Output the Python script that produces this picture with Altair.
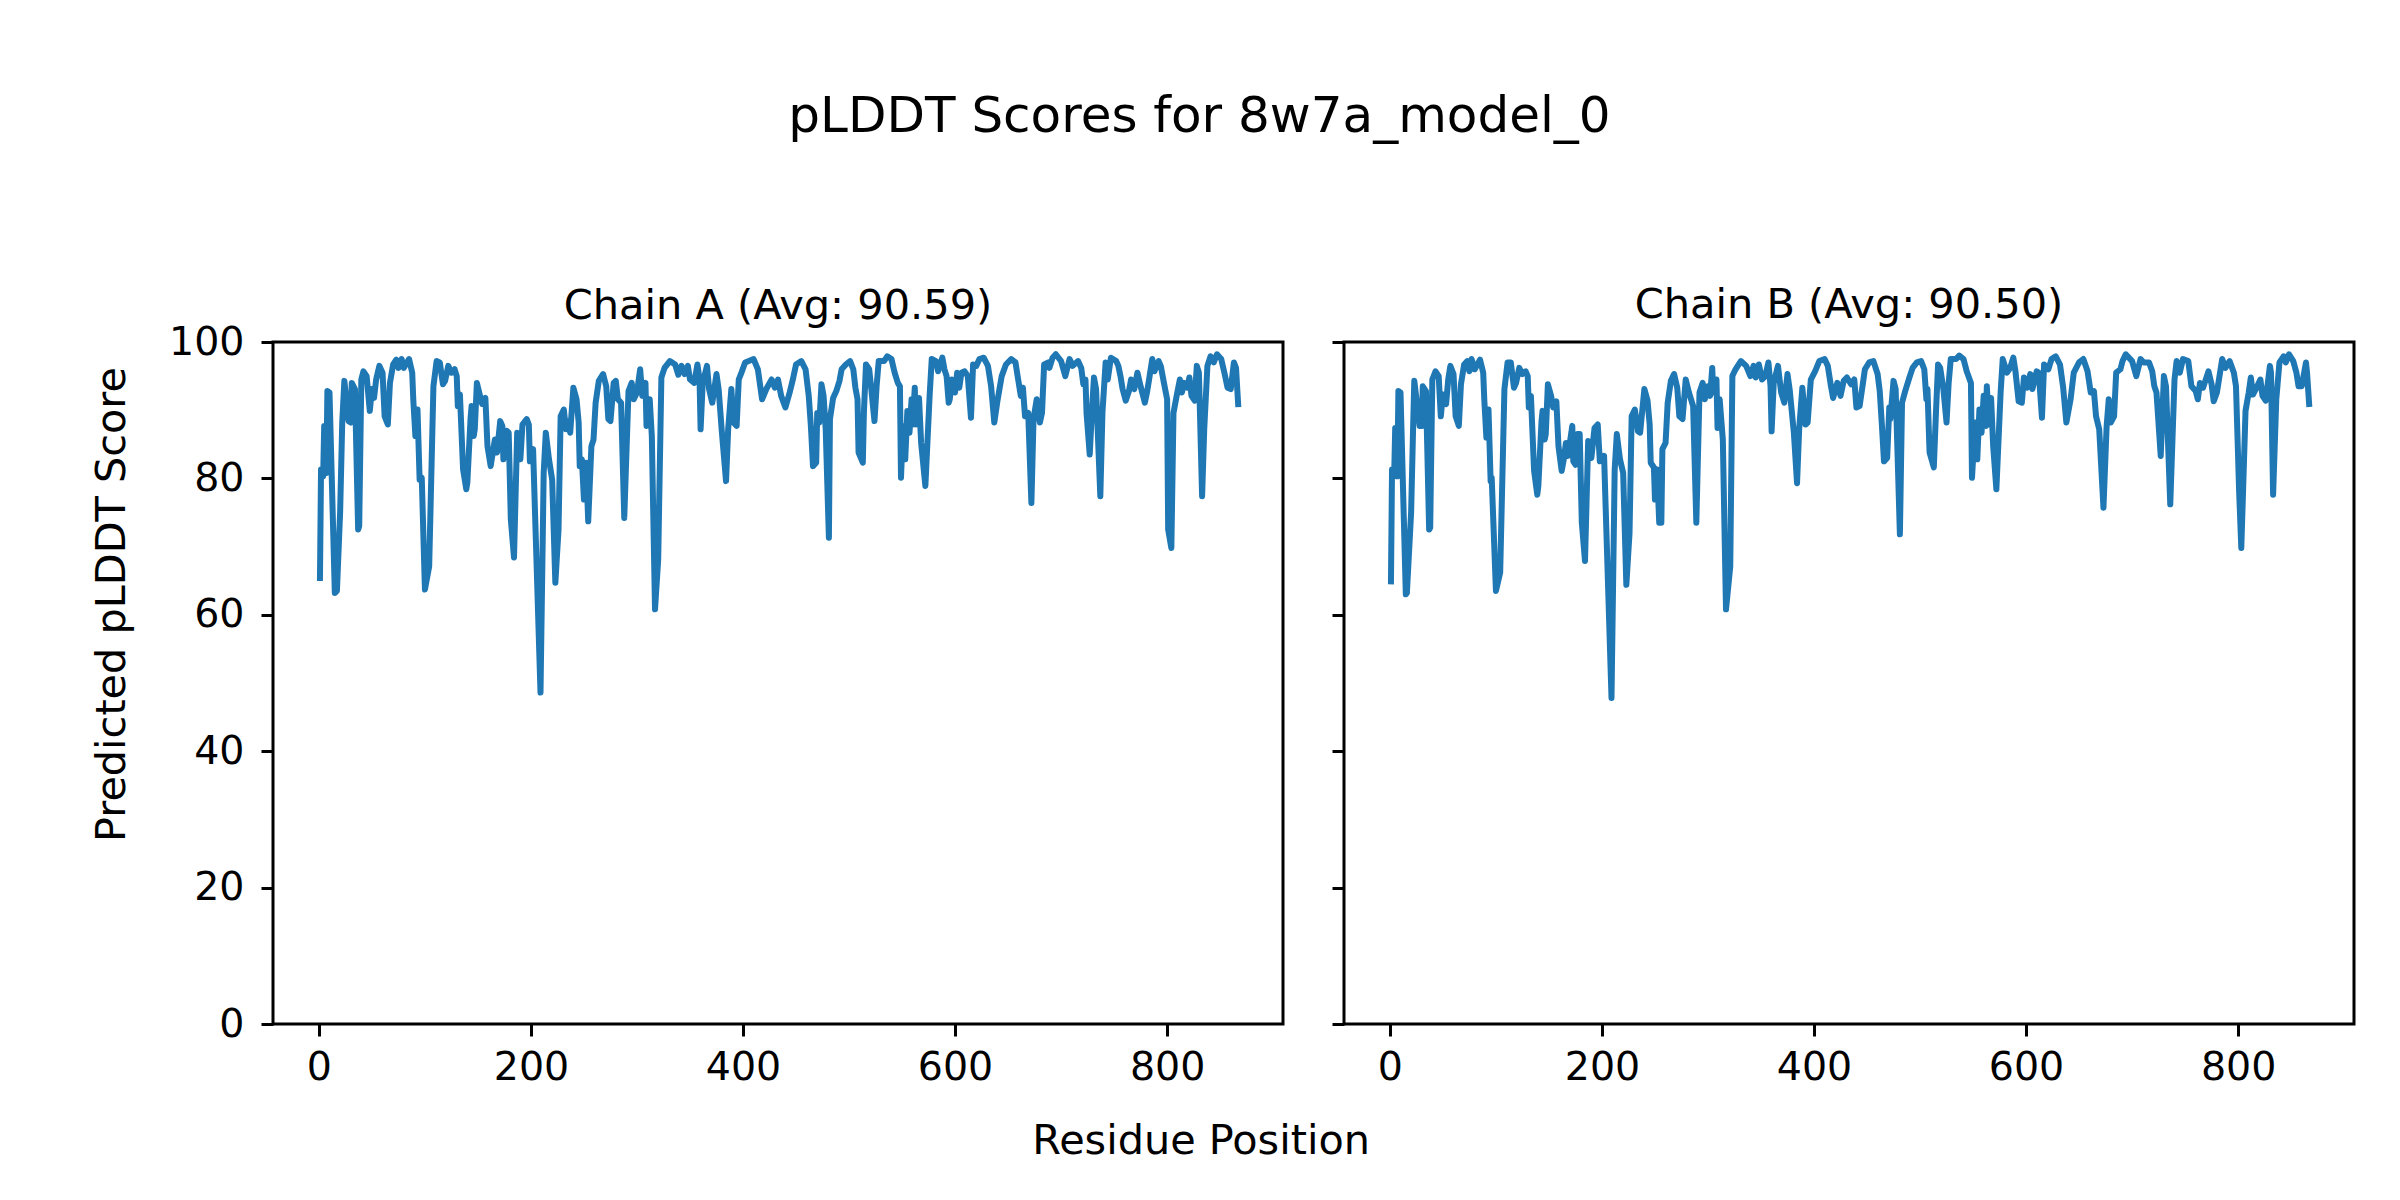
import altair as alt
import pandas as pd

# ---------------- data ----------------
A_POS = [1, 2, 4, 5, 7, 8, 10, 15, 17, 20, 22, 24, 28, 30, 31, 34, 37, 38, 40, 42,
         45, 48, 50, 52, 54, 57, 60, 62, 65, 67, 70, 73, 75, 78, 80, 85, 88, 89, 91, 93,
         95, 97, 100, 104, 108, 111, 114, 117, 119, 122, 125, 128, 130, 131, 133, 136, 139, 140, 143, 144,
         146, 147, 149, 152, 154, 157, 159, 162, 164, 166, 168, 171, 173, 174, 177, 179, 181, 184, 187, 190,
         192, 196, 198, 199, 202, 209, 212, 214, 217, 220, 223, 226, 228, 231, 233, 235, 237, 240, 243, 245,
         246, 248, 250, 252, 254, 257, 259, 261, 264, 268, 271, 273, 275, 278, 280, 282, 285, 288, 292, 295,
         297, 300, 303, 305, 308, 309, 312, 314, 317, 320, 323, 326, 331, 336, 339, 342, 345, 348, 350, 354,
         357, 359, 360, 362, 366, 368, 371, 375, 377, 380, 384, 386, 389, 391, 394, 396, 399, 402, 410, 414,
         418, 422, 427, 430, 433, 436, 440, 444, 447, 450, 455, 459, 462, 464, 466, 469, 470, 472, 474, 476,
         478, 481, 482, 485, 488, 491, 493, 497, 501, 504, 506, 508, 509, 513, 514, 516, 519, 521, 524, 526,
         528, 533, 536, 540, 543, 546, 548, 549, 551, 553, 555, 557, 559, 560, 562, 563, 566, 568, 572, 576,
         578, 582, 584, 588, 590, 592, 594, 595, 597, 600, 602, 604, 606, 609, 612, 615, 617, 620, 623, 627,
         631, 634, 637, 640, 644, 648, 653, 657, 659, 662, 664, 666, 669, 672, 674, 677, 680, 682, 684, 688,
         689, 692, 695, 700, 704, 708, 711, 716, 719, 721, 723, 724, 727, 729, 731, 733, 737, 739, 742, 744,
         747, 752, 754, 756, 758, 761, 764, 766, 769, 772, 775, 777, 779, 781, 783, 786, 788, 792, 794, 797,
         800, 801, 804, 806, 809, 812, 814, 816, 819, 821, 823, 826, 828, 830, 833, 835, 838, 841, 844, 847,
         851, 854, 857, 860, 863, 865, 867]
A_SCORE = [65.4, 81.3, 80.3, 87.7, 80.8, 92.8, 92.6, 63.2, 63.5, 75.0, 88.2, 94.3, 88.4, 88.2, 94.0, 93.1, 72.5, 73.0, 94.5, 95.7,
           95.0, 89.9, 93.1, 91.8, 94.5, 96.5, 95.5, 89.1, 87.9, 94.0, 96.7, 97.4, 96.2, 97.5, 96.2, 97.5, 95.5, 91.6, 86.2, 90.1,
           79.8, 80.1, 63.7, 67.1, 93.5, 97.2, 97.0, 93.8, 94.3, 96.5, 95.5, 96.0, 95.0, 90.6, 92.3, 81.3, 78.4, 79.4, 88.7, 90.6,
           86.2, 87.2, 94.0, 92.1, 90.9, 91.8, 84.7, 81.8, 83.8, 85.7, 83.8, 88.4, 87.7, 82.8, 87.0, 86.7, 74.0, 68.4, 86.7, 82.8,
           87.9, 88.7, 87.9, 82.5, 84.3, 48.6, 80.8, 86.7, 82.8, 79.8, 64.7, 72.5, 89.1, 90.1, 87.2, 88.4, 86.7, 93.3, 91.6, 88.2,
           81.8, 82.8, 76.9, 82.3, 73.7, 84.7, 85.7, 91.1, 94.3, 95.3, 93.5, 88.7, 88.4, 94.0, 94.3, 91.6, 91.1, 74.2, 92.8, 94.0,
           91.6, 92.6, 96.0, 92.1, 94.0, 87.7, 91.6, 86.2, 60.8, 68.1, 94.8, 96.2, 97.2, 96.7, 95.2, 96.5, 95.3, 96.5, 94.5, 94.0,
           96.7, 94.5, 87.2, 94.0, 96.5, 93.1, 91.1, 95.3, 93.1, 86.9, 79.6, 87.2, 93.1, 88.2, 87.7, 94.5, 95.7, 97.0, 97.5, 96.0,
           91.6, 93.1, 94.5, 93.3, 94.5, 92.1, 90.4, 92.6, 94.5, 96.7, 97.2, 96.0, 92.1, 87.7, 81.8, 82.3, 89.6, 88.2, 93.8, 92.1,
           87.2, 71.3, 88.7, 91.8, 92.8, 94.3, 96.0, 96.7, 97.2, 96.0, 93.3, 91.6, 83.8, 82.3, 89.6, 96.7, 96.0, 93.1, 88.4, 93.5,
           97.2, 97.2, 97.9, 97.5, 95.5, 94.0, 93.5, 80.1, 87.7, 82.8, 89.9, 86.7, 91.6, 87.9, 93.3, 87.9, 91.8, 85.2, 78.9, 92.1,
           97.5, 97.2, 95.7, 97.7, 96.0, 95.0, 91.1, 91.6, 94.5, 92.6, 95.5, 93.3, 95.5, 95.7, 95.0, 88.9, 96.7, 96.5, 97.5, 97.7,
           96.5, 93.5, 88.2, 91.4, 95.0, 96.7, 97.5, 97.0, 95.0, 92.1, 93.3, 89.1, 89.6, 76.4, 88.7, 91.6, 88.2, 89.6, 96.7, 97.0,
           96.2, 97.7, 98.2, 97.2, 95.0, 97.5, 96.5, 97.2, 96.2, 93.8, 94.5, 89.6, 83.5, 89.6, 94.8, 93.1, 77.4, 89.6, 97.0, 94.5,
           97.7, 97.2, 96.5, 95.0, 93.1, 91.4, 92.8, 94.5, 93.1, 95.5, 93.5, 92.3, 91.1, 92.6, 94.5, 97.5, 95.7, 97.2, 96.5, 94.0,
           91.6, 72.5, 69.8, 89.6, 92.1, 94.5, 92.6, 94.0, 93.3, 94.8, 92.1, 91.4, 96.5, 95.5, 77.4, 87.2, 96.5, 97.9, 97.0, 98.2,
           97.5, 95.5, 93.3, 93.1, 97.0, 96.2, 90.9]

B_POS = [1, 2, 4, 5, 7, 8, 10, 15, 16, 20, 22, 23, 28, 30, 31, 34, 37, 38, 40, 43,
         46, 48, 50, 53, 55, 57, 60, 62, 65, 67, 70, 73, 75, 77, 80, 85, 88, 89, 91, 93,
         95, 96, 100, 104, 108, 111, 114, 117, 119, 122, 125, 128, 130, 131, 133, 136, 139, 140, 143, 144,
         146, 147, 149, 152, 154, 157, 159, 162, 164, 166, 168, 172, 173, 175, 177, 179, 181, 184, 187, 190,
         193, 196, 198, 202, 209, 212, 214, 217, 220, 223, 226, 228, 231, 234, 236, 240, 243, 245, 246, 249,
         250, 252, 254, 256, 257, 260, 262, 265, 268, 271, 273, 276, 279, 282, 286, 289, 292, 295, 297, 300,
         302, 304, 305, 308, 309, 311, 314, 317, 321, 323, 326, 331, 336, 340, 343, 345, 348, 351, 354, 357,
         359, 360, 362, 366, 369, 372, 375, 377, 381, 384, 386, 389, 392, 394, 397, 401, 405, 410, 413, 416,
         418, 422, 425, 428, 431, 435, 438, 440, 443, 446, 448, 452, 456, 460, 462, 464, 466, 469, 471, 472,
         475, 477, 481, 483, 486, 490, 493, 497, 501, 504, 506, 507, 509, 513, 515, 517, 519, 522, 525, 527,
         529, 534, 537, 541, 544, 548, 549, 552, 554, 556, 558, 560, 562, 563, 565, 567, 569, 572, 576, 578,
         582, 585, 588, 590, 593, 596, 598, 601, 604, 606, 610, 612, 615, 617, 621, 624, 628, 632, 635, 638,
         642, 645, 650, 654, 658, 661, 664, 666, 669, 673, 676, 678, 680, 683, 685, 689, 691, 694, 700, 704,
         708, 711, 716, 719, 721, 723, 727, 730, 732, 736, 740, 742, 745, 748, 753, 756, 760, 762, 764, 767,
         772, 775, 777, 780, 785, 788, 792, 796, 798, 801, 803, 807, 810, 812, 814, 818, 821, 823, 826, 830,
         831, 833, 836, 839, 843, 845, 848, 852, 855, 857, 860, 864, 865, 867]
B_SCORE = [64.9, 81.3, 80.3, 87.4, 80.3, 92.8, 92.6, 63.0, 63.2, 75.0, 88.2, 94.3, 87.7, 87.7, 93.5, 92.8, 72.5, 72.8, 94.5, 95.7,
           95.0, 89.1, 92.3, 90.9, 94.5, 96.5, 95.3, 89.1, 87.7, 93.8, 96.7, 97.2, 95.7, 97.5, 96.0, 97.4, 95.5, 91.6, 86.0, 90.1,
           79.6, 80.1, 63.5, 66.2, 93.1, 97.0, 97.0, 93.3, 94.0, 96.2, 95.3, 95.7, 95.0, 90.4, 92.1, 81.1, 77.6, 78.9, 88.4, 89.9,
           85.7, 86.5, 93.8, 92.1, 90.4, 91.3, 84.7, 81.1, 82.8, 85.2, 83.3, 87.7, 82.5, 82.0, 86.5, 86.5, 73.5, 67.9, 85.5, 83.0,
           87.4, 87.9, 82.5, 83.3, 47.8, 81.3, 86.5, 82.8, 80.8, 64.4, 72.0, 89.1, 90.1, 86.9, 86.7, 93.1, 91.4, 87.9, 82.3, 81.6,
           76.9, 81.3, 73.5, 73.5, 84.3, 85.2, 91.1, 94.3, 95.3, 93.3, 89.1, 88.7, 94.5, 92.6, 90.6, 73.5, 92.6, 94.0, 91.6, 93.5,
           92.1, 96.2, 92.6, 94.5, 87.4, 91.6, 85.7, 60.8, 67.1, 95.0, 96.0, 97.2, 96.5, 95.0, 96.5, 94.8, 96.7, 94.5, 95.0, 97.0,
           93.5, 86.9, 94.0, 96.5, 92.6, 91.1, 95.3, 93.1, 86.7, 79.3, 87.2, 93.3, 87.9, 88.2, 94.5, 95.7, 97.2, 97.5, 96.5, 93.5,
           91.8, 94.0, 92.1, 94.3, 94.8, 93.8, 94.5, 90.4, 90.6, 93.8, 96.0, 97.0, 97.2, 95.3, 92.8, 87.9, 82.5, 83.0, 90.4, 88.7,
           94.3, 93.1, 71.8, 91.1, 92.8, 94.8, 96.2, 97.0, 97.2, 96.0, 91.6, 93.1, 83.8, 81.6, 89.6, 96.7, 96.2, 93.1, 88.2, 94.0,
           97.5, 97.5, 98.0, 97.5, 95.7, 94.0, 80.1, 88.2, 82.8, 90.1, 86.7, 92.1, 87.7, 93.5, 87.9, 91.8, 84.7, 78.4, 92.6, 97.5,
           95.5, 96.2, 97.7, 95.7, 91.3, 91.1, 94.8, 93.3, 95.3, 93.1, 95.7, 95.5, 88.9, 96.7, 96.0, 97.5, 97.9, 96.7, 93.3, 88.2,
           91.6, 95.5, 97.0, 97.5, 95.7, 92.6, 92.8, 89.1, 87.2, 75.7, 87.7, 91.6, 88.2, 89.1, 95.5, 96.0, 97.2, 98.2, 97.2, 95.0,
           97.5, 97.0, 97.0, 95.7, 93.5, 92.6, 83.3, 95.0, 93.5, 76.2, 94.5, 97.2, 95.5, 97.5, 97.2, 93.5, 92.8, 91.6, 94.0, 93.3,
           95.7, 93.8, 91.3, 92.6, 97.5, 96.2, 97.2, 95.5, 93.5, 77.9, 69.8, 89.9, 92.6, 94.8, 92.3, 93.5, 94.5, 92.1, 91.4, 96.5,
           95.5, 77.6, 91.6, 97.0, 97.9, 97.0, 98.2, 97.2, 95.5, 93.5, 93.5, 97.0, 95.5, 90.9]

SUPTITLE = "pLDDT Scores for 8w7a_model_0"
PANEL_TITLES = ["Chain A (Avg: 90.59)", "Chain B (Avg: 90.50)"]
X_LABEL = "Residue Position"
Y_LABEL = "Predicted pLDDT Score"
X_TICKS = [0, 200, 400, 600, 800]
Y_TICKS = [0, 20, 40, 60, 80, 100]

# ---------------- styling ----------------
FONT = "DejaVu Sans"
LINE_COLOR = "#1f77b4"
W, H = 1010, 682
X_DOMAIN = [-43.3, 909.3]
TICK_FONT = 39.5


def panel(pos, score, title, first):
    df = pd.DataFrame({"pos": pos, "score": score})
    xaxis = dict(values=X_TICKS, domain=False, grid=False, tickSize=12, tickWidth=3,
                 tickColor="black", labelFontSize=TICK_FONT, labelFont=FONT, labelColor="black",
                 labelBaseline="alphabetic", labelPadding=43, labelAngle=0, labelFlush=False,
                 labelOverlap=False, format="d")
    yaxis = dict(values=Y_TICKS, domain=False, grid=False, tickSize=12, tickWidth=3,
                 tickColor="black", labelFontSize=TICK_FONT, labelFont=FONT, labelColor="black",
                 labelPadding=17, labelFlush=False, labelOverlap=False, format="d")
    if first:
        xaxis.update(title=X_LABEL, titleFontSize=41.4, titleFont=FONT, titleFontWeight="normal",
                     titleColor="black", titleAngle=0, titleBaseline="alphabetic", titleAlign="center",
                     titleX=927.6, titleY=129.5)
        yaxis.update(title=Y_LABEL, titleFontSize=41.4, titleFont=FONT, titleFontWeight="normal",
                     titleColor="black", titleAngle=270, titleBaseline="alphabetic", titleAlign="center",
                     titleX=-149, titleY=262)
        t_off = -38.3
    else:
        xaxis.update(title=None)
        yaxis.update(title=None, labels=False)
        t_off = -18.5
    return alt.Chart(df).mark_line(
        color=LINE_COLOR, strokeWidth=6, strokeJoin="round", strokeCap="square", clip=True
    ).encode(
        x=alt.X("pos:Q", scale=alt.Scale(domain=X_DOMAIN, nice=False, zero=False), axis=alt.Axis(**xaxis)),
        y=alt.Y("score:Q", scale=alt.Scale(domain=[0, 100], nice=False, zero=False), axis=alt.Axis(**yaxis)),
    ).properties(
        width=W, height=H,
        title=alt.TitleParams(title, fontSize=41.5, font=FONT, fontWeight="normal", color="black",
                              anchor="middle", frame="group", baseline="alphabetic", offset=t_off),
    )


a = panel(A_POS, A_SCORE, PANEL_TITLES[0], True)
b = panel(B_POS, B_SCORE, PANEL_TITLES[1], False)

chart = alt.hconcat(
    a, b, spacing=61, bounds="flush",
    title=alt.TitleParams(SUPTITLE, fontSize=50, font=FONT, fontWeight="normal", color="black",
                          anchor="middle", frame="bounds", baseline="alphabetic", offset=101, dx=-23),
).properties(
    padding={"left": 81, "top": 84, "right": 5, "bottom": 5},
    background="white",
).configure(
    font=FONT
).configure_view(
    stroke="black", strokeWidth=3
)

chart.save("out.html", embed_options={"renderer": "svg", "actions": False})
